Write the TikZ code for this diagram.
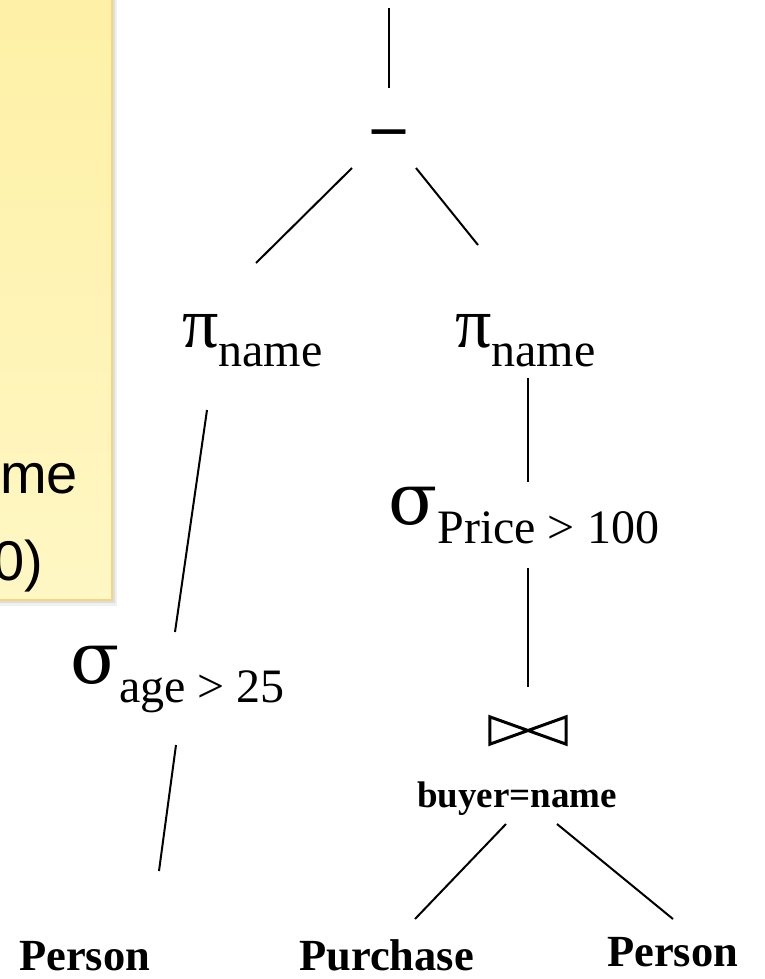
\documentclass[tikz,border=0pt]{standalone}
\usepackage{fontspec}
\setmainfont{Liberation Serif}
\newfontfamily\notefont{Liberation Sans}
\newfontfamily\greekfont{DejaVu Serif}
\usepackage{tikz}
\usetikzlibrary{calc}
\definecolor{notetop}{RGB}{254,240,165}
\definecolor{notebottom}{RGB}{255,247,196}
\definecolor{noteedge}{RGB}{243,214,128}
\tikzstyle{edge} = [line width=2pt]
\tikzstyle{op} = [inner sep=0pt, anchor=base west]
\tikzstyle{relation} = [inner sep=0pt, anchor=base west, font=\bfseries\fontsize{44.5}{50}\selectfont]
\tikzstyle{notetext} = [inner sep=0pt, anchor=base east, font=\notefont\fontsize{56}{64}\selectfont]
% operator with its subscript
\newcommand{\opsub}[2]{{\fontsize{72}{80}\selectfont #1}\raisebox{-19pt}{\fontsize{48}{56}\selectfont #2}}

\begin{document}
\begin{tikzpicture}[x=1pt, y=-1pt]
    \useasboundingbox (0,0) rectangle (765,979);
    \clip (0,0) rectangle (765,979);

    % Note box (cut off on the left)
    \fill[black, opacity=0.06] (-10,-10) rectangle (117,606);
    \fill[black, opacity=0.08] (-10,-10) rectangle (115,603);
    \shade[top color=notetop, bottom color=notebottom, draw=noteedge, line width=1.5pt] (-10,-10) rectangle (112,600);
    \node[notetext] (noteA) at (78,493) {me};
    \node[notetext] (noteB) at (43,580) {0)};

    % Difference
    \coordinate (root) at (389,8);
    \node[inner sep=0pt, anchor=base, font=\bfseries\fontsize{66}{70}\selectfont] (diff) at (389,147) {\textendash};

    % Projections
    \node[op] (piL) at (182,347) {\opsub{π}{name}};
    \node[op] (piR) at (455,347) {\opsub{π}{name}};

    % Selections
    \node[op] (sigA) at (70,683) {\opsub{\greekfont σ}{age > 25}};
    \node[op] (sigP) at (388,524) {\opsub{\greekfont σ}{Price > 100}};

    % Join
    \node[minimum width=76pt, minimum height=27pt, inner sep=0pt] (join) at (528,730.5) {};
    \draw[line width=3pt] (join.south west) -- (join.north east) -- (join.south east) -- (join.north west) -- cycle;
    \node[op, font=\bfseries\fontsize{37}{42}\selectfont] (cond) at (417,807) {buyer=name};

    % Relations
    \node[relation] (personA) at (19,970) {Person};
    \node[relation] (purch) at (299,970) {Purchase};
    \node[relation] (personB) at (607,966) {Person};

    % Edges
    \draw[edge] (root) -- ($(diff.base)+(0,-59)$);
    \draw[edge] ($(diff.base)+(-37,21)$) -- ($(piL.base west)+(74,-84)$);
    \draw[edge] ($(diff.base)+(27,21)$) -- ($(piR.base west)+(23,-102)$);
    \draw[edge] ($(piL.base west)+(25,63)$) -- ($(sigA.base west)+(105,-51)$);
    \draw[edge] ($(sigA.base west)+(106,62)$) -- ($(personA.base west)+(140,-99)$);
    \draw[edge] ($(piR.base west)+(73,31)$) -- ($(sigP.base west)+(140,-42)$);
    \draw[edge] ($(sigP.base west)+(140,44)$) -- ($(join.center)+(0,-43.5)$);
    \draw[edge] ($(cond.base west)+(89,17)$) -- ($(purch.base west)+(116,-51)$);
    \draw[edge] ($(cond.base west)+(140,17)$) -- ($(personB.base west)+(66,-47)$);

\end{tikzpicture}
\end{document}
